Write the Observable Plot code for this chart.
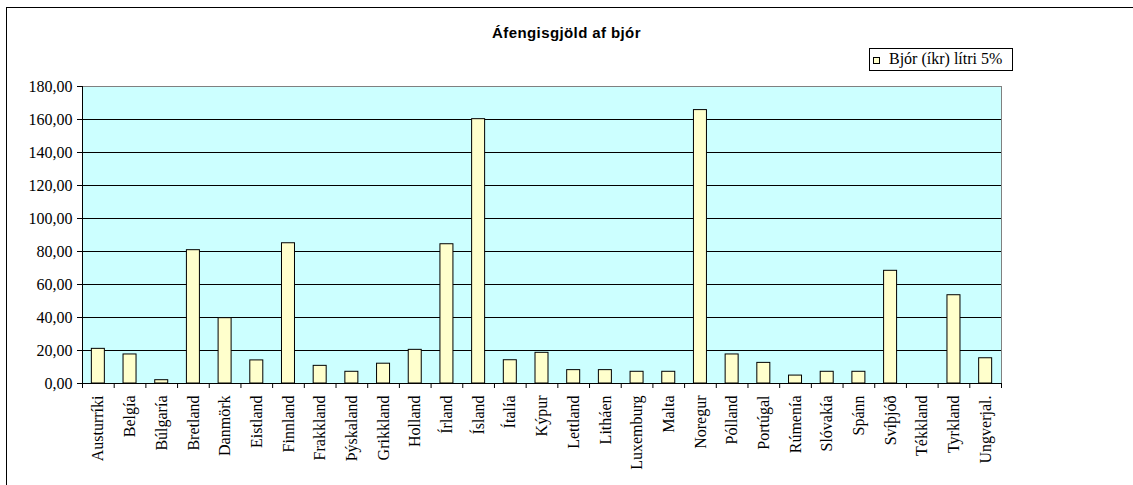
<!DOCTYPE html>
<html>
<head>
<meta charset="utf-8">
<script src="https://cdn.jsdelivr.net/npm/d3@7"></script>
<script src="https://cdn.jsdelivr.net/npm/@observablehq/plot@0.6"></script>
<style>
  html, body { margin: 0; padding: 0; background: #fff; overflow: hidden; }
  #wrap { position: relative; width: 1133px; height: 485px; overflow: hidden; }
  #border { position: absolute; left: 6px; top: 7px; width: 1200px; height: 600px; border: 1px solid #000; box-sizing: border-box; }
  #title { position: absolute; left: 0; width: 1133px; top: 24px; text-align: center; padding-left: 0;
           font-family: "Liberation Sans", Arial, sans-serif; font-weight: bold; font-size: 15px; letter-spacing: 0.4px; color: #000; }
  #legend { position: absolute; left: 869px; top: 48px; width: 144px; height: 23px; box-sizing: border-box;
            border: 1px solid #000; background: #fff; font-family: "Liberation Serif", "Times New Roman", serif; font-size: 16px; color: #000; }
  #legend .sw { position: absolute; left: 3px; top: 8px; width: 7px; height: 7px; border: 1px solid #000; background: #ffffcc; box-sizing: border-box; }
  #legend .lt { position: absolute; left: 19px; top: 1px; white-space: nowrap; line-height: 18px; }
  #chart { position: absolute; left: 0; top: 0; }
</style>
</head>
<body>
<div id="wrap">
  <div id="border"></div>
  <div id="chart"></div>
  <div id="title"></div>
  <div id="legend"><div class="sw"></div><div class="lt"></div></div>
</div>
<script>
const titleText = "Áfengisgjöld af bjór";
const seriesName = "Bjór (íkr) lítri 5%";
const countries = ["Austurríki","Belgía","Búlgaría","Bretland","Danmörk","Eistland","Finnland","Frakkland","Þýskaland","Grikkland","Holland","Írland","Ísland","Ítalía","Kýpur","Lettland","Litháen","Luxemburg","Malta","Noregur","Pólland","Portúgal","Rúmenía","Slóvakía","Spánn","Svíþjóð","Tékkland","Tyrkland","Ungverjal."];
const beerTax = [21.0,17.6,2.0,80.8,39.6,14.0,85.0,10.7,7.1,12.0,20.4,84.4,160.2,14.1,18.6,8.1,8.1,7.1,7.1,165.7,17.6,12.5,4.8,7.1,7.1,68.3,0,53.5,15.3];
const yTicks = [0,20,40,60,80,100,120,140,160,180];
const gridTicks = [20,40,60,80,100,120,140,160];

document.getElementById("title").textContent = titleText;
document.querySelector("#legend .lt").textContent = seriesName;

const W = 1133, H = 485, ML = 82, MR = 132, MT = 86, MB = 102;
const step = (W - ML - MR) / countries.length;
const barW = 13;
const data = countries.map((c, i) => ({country: c, value: beerTax[i]}));
const fmt = d => d.toFixed(2).replace(".", ",");
const serif = "'Liberation Serif', 'Times New Roman', serif";

const chart = Plot.plot({
  width: W, height: H,
  marginLeft: ML, marginRight: MR, marginTop: MT, marginBottom: MB,
  style: {fontFamily: serif, fontSize: "16px", background: "transparent", color: "#000", overflow: "visible"},
  x: {domain: countries, padding: 0, round: false, label: null},
  y: {domain: [0, 180], label: null},
  marks: [
    Plot.frame({fill: "#ccffff", stroke: "#808080"}),
    Plot.ruleY(gridTicks, {stroke: "#000", strokeWidth: 1}),
    Plot.barY(data, {x: "country", y: "value", fill: "#ffffcc", stroke: "#000", strokeWidth: 1,
                     insetLeft: (step - barW) / 2, insetRight: (step - barW) / 2}),
    Plot.frame({anchor: "left", stroke: "#000"}),
    Plot.ruleY([0], {stroke: "#000"}),
    Plot.axisY({ticks: yTicks, tickFormat: fmt, tickSize: 5, tickPadding: 5, fontSize: 16, stroke: "#000", fill: "#000", label: null}),
    Plot.axisX({tickSize: 0, tickPadding: 12, tickRotate: -90, fontSize: 16, fill: "#000", label: null}),
    Plot.axisX({ticks: countries, tickSize: 5, tickFormat: () => "", dx: -step / 2, stroke: "#000", label: null}),
    Plot.axisX({ticks: countries.slice(-1), tickSize: 5, tickFormat: () => "", dx: step / 2, stroke: "#000", label: null})
  ]
});
document.getElementById("chart").appendChild(chart);
</script>
</body>
</html>
